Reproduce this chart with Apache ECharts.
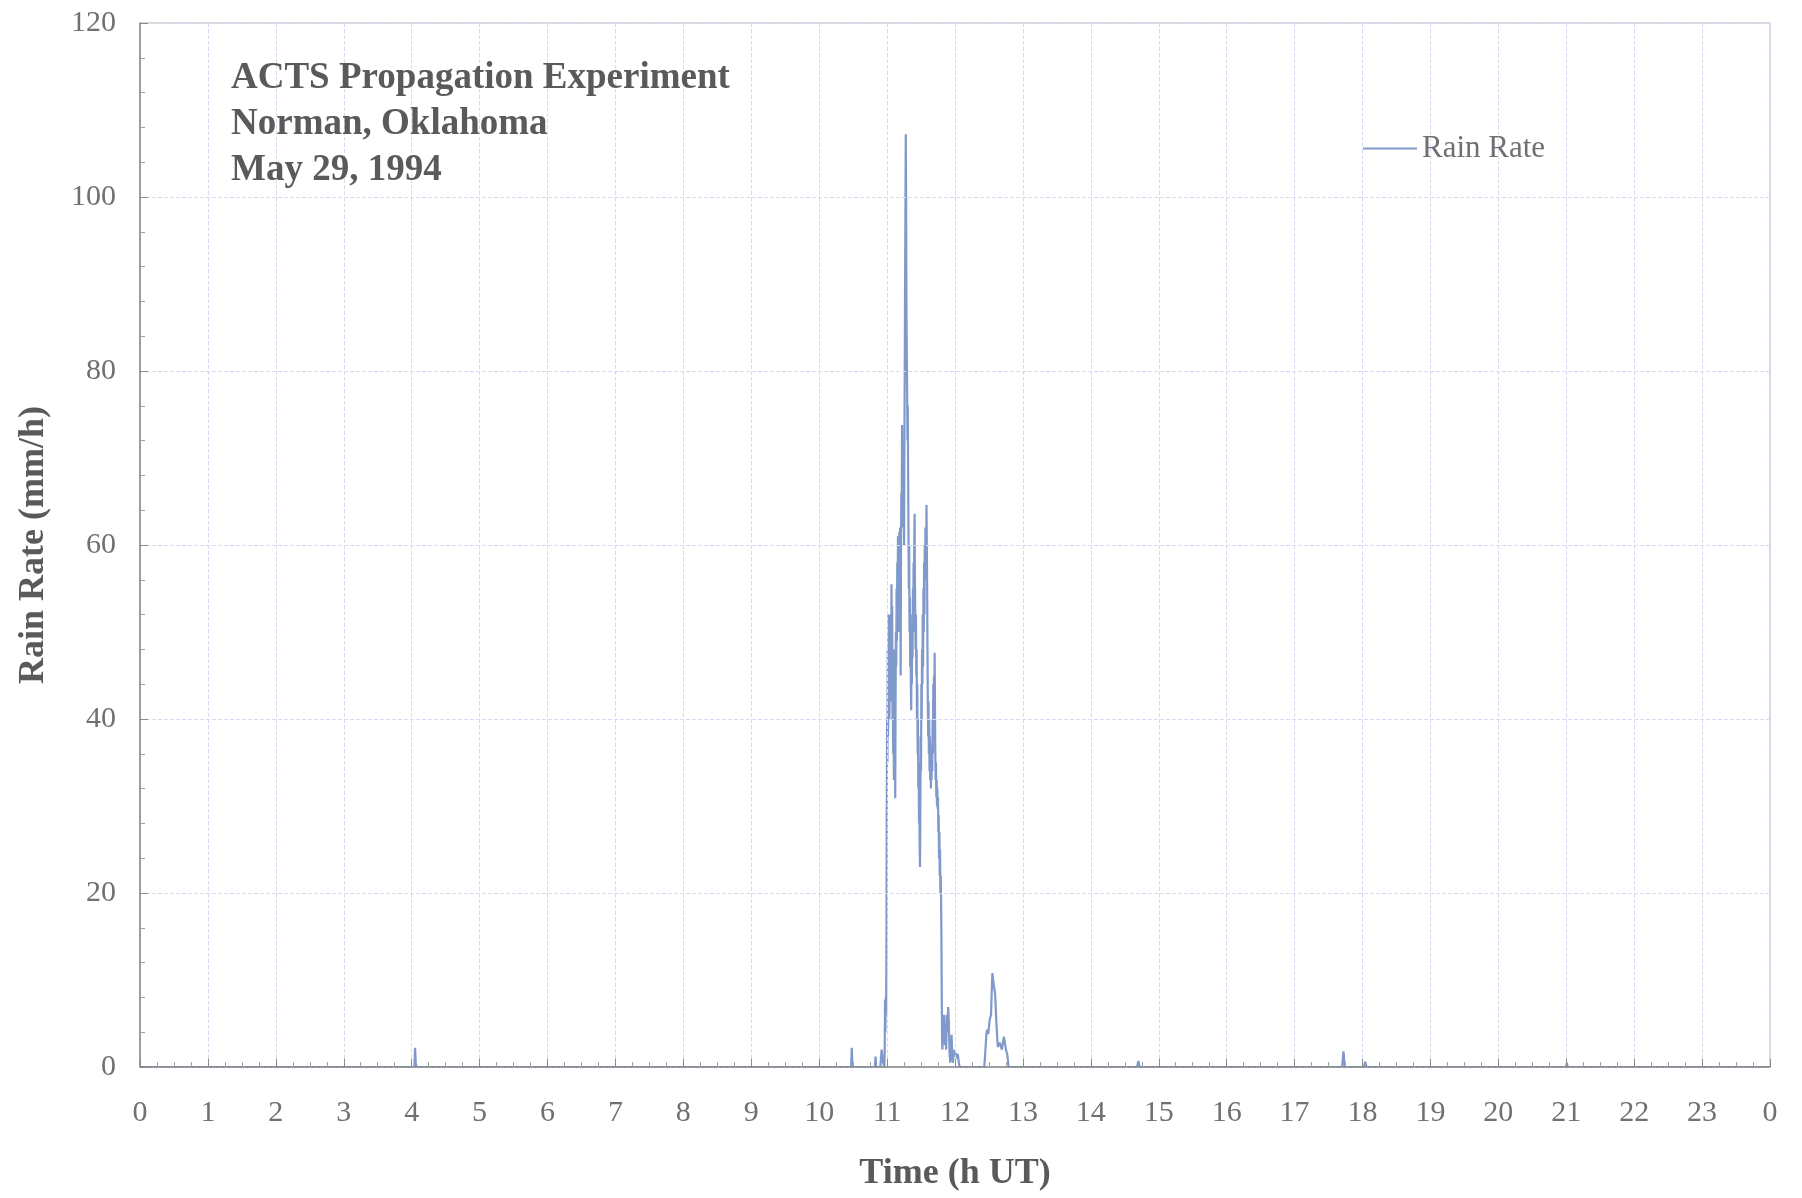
<!DOCTYPE html>
<html>
<head>
<meta charset="utf-8">
<script src="https://cdn.jsdelivr.net/npm/echarts@6/dist/echarts.min.js"></script>
<style>
  html, body { margin: 0; padding: 0; background: #fff; }
  #chartRain { width: 1802px; height: 1198px; }
</style>
</head>
<body>
<div id="chartRain"></div>
<script>
// hour ticks, 0..24 (24 shows as 0 again)
var hourTicks = [0,1,2,3,4,5,6,7,8,9,10,11,12,13,14,15,16,17,18,19,20,21,22,23,24];
var hourLabels = ['0','1','2','3','4','5','6','7','8','9','10','11','12','13','14','15','16','17','18','19','20','21','22','23','0'];

// small blips (time h UT, rain rate mm/h)
var blipTimes = [0, 4.04, 4.05, 4.06, 4.07, 10.47, 10.48, 10.49, 10.82, 10.83, 10.84, 10.90, 10.92, 10.94];
var blipRates = [0, 0,    2.2,  0.5,  0,    0,     2.2,   0,     0,     1.2,   0,     0,     2,     0.5];

// main storm, 10.96 - 12.07
var stormTimes = [
  10.960,10.965,10.970,10.975,10.980,10.985,10.990,10.995,
  11.000,11.005,11.010,11.015,11.020,11.025,11.030,11.035,11.040,11.045,
  11.050,11.055,11.060,11.065,11.070,11.075,11.080,11.085,11.090,11.095,
  11.100,11.105,11.110,11.115,11.120,11.125,11.130,11.135,11.140,11.145,
  11.150,11.155,11.160,11.165,11.170,11.175,11.180,11.185,11.190,11.195,
  11.200,11.205,11.210,11.215,11.220,11.225,11.230,11.235,11.240,11.245,
  11.250,11.255,11.260,11.265,11.270,11.275,11.280,11.285,11.290,11.295,
  11.300,11.305,11.310,11.315,11.320,11.325,11.330,11.335,11.340,11.345,
  11.350,11.355,11.360,11.365,11.370,11.375,11.380,11.385,11.390,11.395,
  11.400,11.405,11.410,11.415,11.420,11.425,11.430,11.435,11.440,11.445,
  11.450,11.455,11.460,11.465,11.470,11.475,11.480,11.485,11.490,11.495,
  11.500,11.505,11.510,11.515,11.520,11.525,11.530,11.535,11.540,11.545,
  11.550,11.555,11.560,11.565,11.570,11.575,11.580,11.585,11.590,11.595,
  11.600,11.605,11.610,11.615,11.620,11.625,11.630,11.635,11.640,11.645,
  11.650,11.655,11.660,11.665,11.670,11.675,11.680,11.685,11.690,11.695,
  11.700,11.705,11.710,11.715,11.720,11.725,11.730,11.735,11.740,11.745,
  11.750,11.755,11.760,11.765,11.770,11.775,11.780,11.785,11.790,11.795,
  11.800,11.805,11.810,11.815,11.820,11.830,11.840,11.850,11.860,11.870,
  11.880,11.890,11.900,11.910,11.920,11.930,11.940,11.950,11.960,11.970,
  11.980,11.990,12.000,12.020,12.040,12.060,12.070
];
var stormRates = [
  0,2,7.7,4,8,6,12,28,
  40,35,48,38,52,44,50,40,47,52,
  42,50,45,55.5,48,53,40,46,36,44,
  33,48,38,45,30.9,42,50,46,55,49,
  58,52,61,54,59,50,61.5,55,62,58,
  45,60,66,62,73.8,68,65,70,62,67,
  60,72,80,90,98,107.2,100,88,82,78,
  72,76,68,62,55,60,50,54,46,50,
  44,41,48,44,52,47,55,50,58,54,
  60,63.6,56,52,48,52,45,48,40,44,
  36,40,32,35,28,32,25,23,30,38,
  34,44,40,48,44,52,46,55,50,58,
  52,60,56,62,62,58,64.6,60,55,48,
  42,38,42,36,40,34,38,33,36,32,
  35,33,37,34,40,36,44,38,45,40,
  47.6,42,36,33,35,31,33,30,32,29.7,
  31,27,29,24,27,22,25,20,22,19.5,
  15,8,3,2,5,3,6,2.5,5,2,
  6,4,6.9,5,1.5,0.5,2,3.7,1,0.5,
  2,1.2,1.8,1,1.5,0.3,0
];

// second, smaller shower 12.43 - 12.79
var showerTimes = [12.43,12.44,12.46,12.47,12.49,12.51,12.53,12.55,12.57,12.59,12.61,12.63,12.66,12.69,12.72,12.75,12.77,12.79];
var showerRates = [0,    1,    3.5,  4.3,  3.8,  5.4,  6,    10.8, 9.5,  8.5,  5,    2.3,  2.8,  2,    3.5,  2,    1.4,  0];

// late traces
var lateTimes = [14.68,14.70,14.72,17.70,17.72,17.74,18.02,18.04,18.06,21.00,21.01,21.02,24];
var lateRates = [0,    0.7,  0,    0,    1.8,  0,    0,    0.6,  0,    0,    0.5,  0,    0];

function toPairs(t, v) {
  var out = [];
  for (var i = 0; i < t.length; i++) out.push([t[i], v[i]]);
  return out;
}

var rainData = []
  .concat(toPairs(blipTimes, blipRates))
  .concat(toPairs(stormTimes, stormRates))
  .concat(toPairs(showerTimes, showerRates))
  .concat(toPairs(lateTimes, lateRates));

var serif = 'Liberation Serif';
var chartRain = echarts.init(document.getElementById('chartRain'));
var option = {
  backgroundColor: '#ffffff',
  animation: false,
  textStyle: { fontFamily: serif },
  title: {
    text: 'ACTS Propagation Experiment\nNorman, Oklahoma\nMay 29, 1994',
    left: 226,
    top: 50,
    textStyle: {
      fontFamily: serif,
      fontSize: 37,
      fontWeight: 'bold',
      color: '#5a5a5a',
      lineHeight: 46
    }
  },
  legend: {
    left: 1358,
    top: 128,
    icon: 'rect',
    itemWidth: 54,
    itemHeight: 2,
    itemGap: 6,
    textStyle: { fontFamily: serif, fontSize: 31, color: '#707070' },
    data: ['Rain Rate']
  },
  grid: {
    left: 140,
    right: 32,
    top: 23,
    bottom: 131,
    show: true,
    borderColor: '#b0b0b0',
    borderWidth: 1
  },
  xAxis: {
    type: 'value',
    min: 0,
    max: 24,
    interval: 1,
    z: 5,
    name: 'Time (h UT)',
    nameLocation: 'middle',
    nameGap: 89,
    nameTextStyle: { fontFamily: serif, fontSize: 36, fontWeight: 'bold', color: '#5a5a5a' },
    axisLine: { lineStyle: { color: '#8a8a8a', width: 1.5 } },
    axisTick: { inside: true, length: 8, lineStyle: { color: '#8a8a8a' } },
    minorTick: { show: true, splitNumber: 4, length: 5, lineStyle: { color: '#a0a0a0' } },
    axisLabel: {
      margin: 31,
      fontFamily: serif,
      fontSize: 30,
      color: '#707070',
      formatter: function (v) {
        var i = hourTicks.indexOf(v);
        return i >= 0 ? hourLabels[i] : '';
      }
    },
    splitLine: { show: true, lineStyle: { color: '#d6dcf2', type: 'dashed', width: 1 } }
  },
  yAxis: {
    type: 'value',
    min: 0,
    max: 120,
    interval: 20,
    z: 5,
    name: 'Rain Rate (mm/h)',
    nameLocation: 'middle',
    nameGap: 88,
    nameTextStyle: { fontFamily: serif, fontSize: 36, fontWeight: 'bold', color: '#5a5a5a' },
    axisLine: { show: true, lineStyle: { color: '#8a8a8a', width: 1.5 } },
    axisTick: { show: true, inside: true, length: 8, lineStyle: { color: '#8a8a8a' } },
    minorTick: { show: true, splitNumber: 5, length: 5, lineStyle: { color: '#a0a0a0' } },
    axisLabel: { margin: 24, fontFamily: serif, fontSize: 30, color: '#707070' },
    splitLine: { show: true, lineStyle: { color: '#d6dcf2', type: 'dashed', width: 1 } }
  },
  series: [
    {
      name: 'Rain Rate',
      type: 'line',
      symbol: 'none',
      lineStyle: { color: '#7f99cb', width: 2.2 },
      itemStyle: { color: '#7f99cb' },
      data: rainData
    }
  ]
};
chartRain.setOption(option);
</script>
</body>
</html>
